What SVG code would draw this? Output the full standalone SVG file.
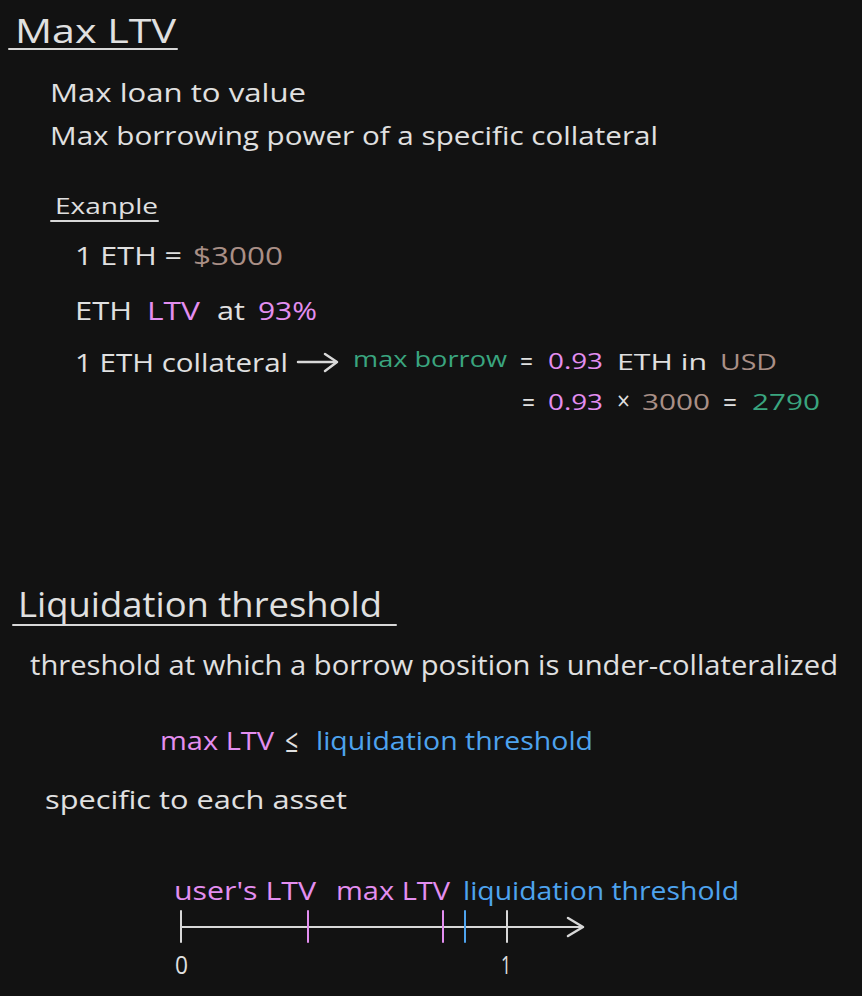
<svg xmlns="http://www.w3.org/2000/svg" width="862" height="996" viewBox="0 0 862 996">
<style>
text{font-family:"Open Sans","Liberation Sans",sans-serif;fill:#e0e0e0}
.w{fill:#e0e0e0}.p{fill:#e38ef0}.b{fill:#a98f86}.g{fill:#3aa57f}.bl{fill:#4ea3ee}
.s32{font-size:32px}.s26{font-size:26px}.s22{font-size:22px}.s34{font-size:34px}.s28{font-size:28px}
.ln{stroke:#d8d8d8;stroke-width:2;fill:none;stroke-linecap:round;stroke-linejoin:round}
.tp{stroke:#e38ef0}.tb{stroke:#4ea3ee}
</style>
<rect width="862" height="996" fill="#121212"/>
<g id="max-ltv-title">
<text class="s32" x="15" y="43" textLength="161" lengthAdjust="spacingAndGlyphs">Max LTV</text>
<line class="ln" x1="9" y1="49" x2="177" y2="49"/>
</g>
<g id="max-ltv-desc">
<text class="s26" x="50" y="102" textLength="256" lengthAdjust="spacingAndGlyphs">Max loan to value</text>
<text class="s26" x="50" y="145" textLength="608" lengthAdjust="spacingAndGlyphs">Max borrowing power of a specific collateral</text>
</g>
<g id="example-title">
<text class="s22" x="55" y="214" textLength="103" lengthAdjust="spacingAndGlyphs">Exanple</text>
<line class="ln" x1="51" y1="221" x2="158" y2="221"/>
</g>
<g id="example-price">
<text class="s26" x="75" y="265" textLength="107" lengthAdjust="spacingAndGlyphs">1 ETH =</text>
<text class="s26 b" x="193" y="265" textLength="90" lengthAdjust="spacingAndGlyphs">$3000</text>
</g>
<g id="example-ltv">
<text class="s26" x="75" y="320" textLength="57" lengthAdjust="spacingAndGlyphs">ETH</text>
<text class="s26 p" x="147" y="320" textLength="53" lengthAdjust="spacingAndGlyphs">LTV</text>
<text class="s26" x="217" y="320" textLength="28" lengthAdjust="spacingAndGlyphs">at</text>
<text class="s26 p" x="258" y="320" textLength="59" lengthAdjust="spacingAndGlyphs">93%</text>
</g>
<g id="example-collateral">
<text class="s26" x="75" y="372" textLength="213" lengthAdjust="spacingAndGlyphs">1 ETH collateral</text>
</g>
<g id="example-max-borrow">
<text class="s22 g" x="353" y="367" textLength="154" lengthAdjust="spacingAndGlyphs">max borrow</text>
<text class="s28" x="520" y="371" textLength="13" lengthAdjust="spacingAndGlyphs">=</text>
<text class="s22 p" x="548" y="369" textLength="55" lengthAdjust="spacingAndGlyphs">0.93</text>
<text class="s22" x="617" y="370" textLength="90" lengthAdjust="spacingAndGlyphs">ETH in</text>
<text class="s22 b" x="720" y="370" textLength="57" lengthAdjust="spacingAndGlyphs">USD</text>
<text class="s28" x="522" y="412" textLength="13" lengthAdjust="spacingAndGlyphs">=</text>
<text class="s22 p" x="548" y="410" textLength="55" lengthAdjust="spacingAndGlyphs">0.93</text>
<text class="s26" x="617" y="410" textLength="13" lengthAdjust="spacingAndGlyphs">×</text>
<text class="s22 b" x="642" y="410" textLength="68" lengthAdjust="spacingAndGlyphs">3000</text>
<text class="s28" x="723" y="412" textLength="14" lengthAdjust="spacingAndGlyphs">=</text>
<text class="s22 g" x="752" y="410" textLength="68" lengthAdjust="spacingAndGlyphs">2790</text>
</g>
<g id="liq-title">
<text class="s34" x="18" y="617" textLength="364" lengthAdjust="spacingAndGlyphs">Liquidation threshold</text>
<line class="ln" x1="13" y1="625" x2="396" y2="625"/>
</g>
<g id="liq-desc">
<text class="s28" x="30" y="675" textLength="808" lengthAdjust="spacingAndGlyphs">threshold at which a borrow position is under-collateralized</text>
</g>
<g id="liq-relation">
<text class="s26 p" x="160" y="750" textLength="114" lengthAdjust="spacingAndGlyphs">max LTV</text>
<text class="s32" x="285" y="752" textLength="13" lengthAdjust="spacingAndGlyphs">≤</text>
<text class="s26 bl" x="316" y="750" textLength="277" lengthAdjust="spacingAndGlyphs">liquidation threshold</text>
</g>
<g id="liq-asset">
<text class="s26" x="45" y="809" textLength="302" lengthAdjust="spacingAndGlyphs">specific to each asset</text>
</g>
<g id="timeline-labels">
<text class="s26 p" x="174" y="900" textLength="142" lengthAdjust="spacingAndGlyphs">user's LTV</text>
<text class="s26 p" x="336" y="900" textLength="114" lengthAdjust="spacingAndGlyphs">max LTV</text>
<text class="s26 bl" x="463" y="900" textLength="276" lengthAdjust="spacingAndGlyphs">liquidation threshold</text>
<text class="s26" x="175" y="974" textLength="13" lengthAdjust="spacingAndGlyphs">0</text>
<text class="s26" x="501" y="974" textLength="10" lengthAdjust="spacingAndGlyphs">1</text>
</g>
<g id="connectors">
<line class="ln" x1="298" y1="362" x2="336" y2="362" style="stroke-width:2.5"/>
<polyline class="ln" points="325,354 337,362 325,371" style="stroke-width:2.5"/>
<line class="ln" x1="181" y1="927" x2="582" y2="927"/>
<polyline class="ln" points="568,918 583,927 568,936" style="stroke-width:2.5"/>
<line class="ln" x1="181" y1="911" x2="181" y2="942"/>
<line class="ln tp" x1="308" y1="911" x2="308" y2="942"/>
<line class="ln tp" x1="443" y1="911" x2="443" y2="942"/>
<line class="ln tb" x1="465" y1="911" x2="465" y2="942"/>
<line class="ln" x1="507" y1="911" x2="507" y2="942"/>
</g>
</svg>
